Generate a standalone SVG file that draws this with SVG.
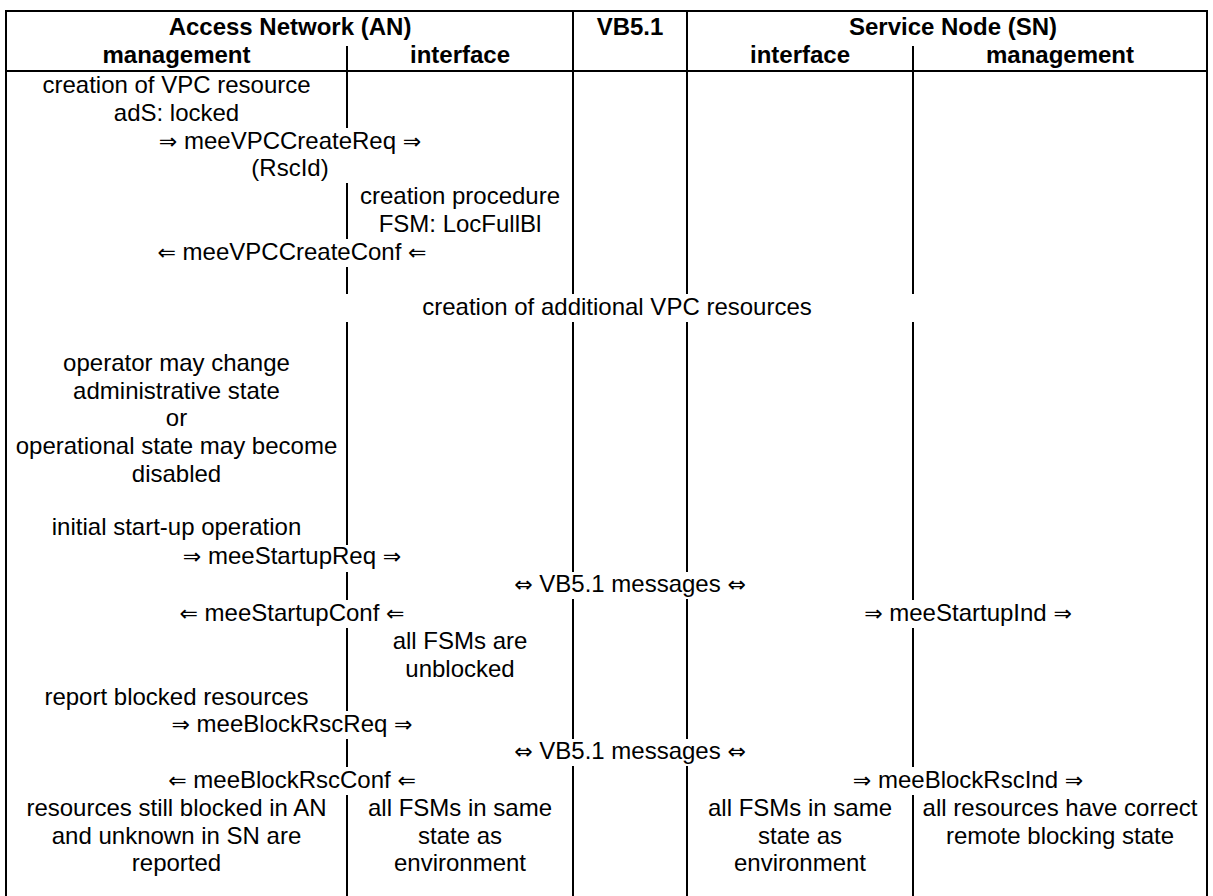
<svg xmlns="http://www.w3.org/2000/svg" width="1213" height="896" viewBox="0 0 1213 896">
<style>
  .ln { stroke: #000; stroke-width: 2; fill: none; }
  text { font-family: "Liberation Sans", "DejaVu Sans", Arial, sans-serif; font-size: 24px; fill: #000; text-anchor: middle; }
  .h { font-weight: bold; }
  .ar { font-family: "DejaVu Sans", "Liberation Sans", sans-serif; font-size: 22px; }
</style>
<rect x="0" y="0" width="1213" height="896" fill="#fff"/>
<g id="connectors">
  <line class="ln" x1="5" y1="11" x2="1208" y2="11"/>
  <line class="ln" x1="5" y1="71" x2="1208" y2="71"/>
  <line class="ln" x1="6" y1="10" x2="6" y2="896"/>
  <line class="ln" x1="1207" y1="10" x2="1207" y2="896"/>
  <path class="ln" d="M347 46V128 M347 183V239 M347 267V294 M347 322V545 M347 572V600 M347 628V711 M347 739V767 M347 795V896"/>
  <path class="ln" d="M573 11V294 M573 322V572 M573 599V739 M573 766V896"/>
  <path class="ln" d="M687 11V294 M687 322V572 M687 599V739 M687 766V896"/>
  <path class="ln" d="M913 46V294 M913 322V600 M913 628V767 M913 795V896"/>
</g>
<g id="header-an"><text class="h" x="290" y="35">Access Network (AN)</text></g>
<g id="header-vb"><text class="h" x="630" y="35">VB5.1</text></g>
<g id="header-sn"><text class="h" x="953" y="35">Service Node (SN)</text></g>
<g id="header-an-mgmt"><text class="h" x="176.5" y="63">management</text></g>
<g id="header-an-if"><text class="h" x="460" y="63">interface</text></g>
<g id="header-sn-if"><text class="h" x="800" y="63">interface</text></g>
<g id="header-sn-mgmt"><text class="h" x="1060" y="63">management</text></g>

<g id="create-vpc"><text x="176.5" y="93">creation of VPC resource</text><text x="176.5" y="121">adS: locked</text></g>
<g id="vpc-create-req"><text x="290" y="149"><tspan class="ar">⇒</tspan> meeVPCCreateReq <tspan class="ar">⇒</tspan></text><text x="290" y="176">(RscId)</text></g>
<g id="creation-procedure"><text x="460" y="204">creation procedure</text><text x="460" y="232">FSM: LocFullBl</text></g>
<g id="vpc-create-conf"><text x="292" y="260"><tspan class="ar">⇐</tspan> meeVPCCreateConf <tspan class="ar">⇐</tspan></text></g>
<g id="additional"><text x="617" y="315">creation of additional VPC resources</text></g>
<g id="operator"><text x="176.5" y="371">operator may change</text><text x="176.5" y="399">administrative state</text><text x="176.5" y="426">or</text><text x="176.5" y="454">operational state may become</text><text x="176.5" y="482">disabled</text></g>
<g id="startup-op"><text x="176.5" y="535">initial start-up operation</text></g>
<g id="startup-req"><text x="292" y="564"><tspan class="ar">⇒</tspan> meeStartupReq <tspan class="ar">⇒</tspan></text></g>
<g id="vb-msg-1"><text x="630" y="592"><tspan class="ar">⇔</tspan> VB5.1 messages <tspan class="ar">⇔</tspan></text></g>
<g id="startup-conf"><text x="292" y="621"><tspan class="ar">⇐</tspan> meeStartupConf <tspan class="ar">⇐</tspan></text></g>
<g id="startup-ind"><text x="968" y="621"><tspan class="ar">⇒</tspan> meeStartupInd <tspan class="ar">⇒</tspan></text></g>
<g id="unblocked"><text x="460" y="649">all FSMs are</text><text x="460" y="677">unblocked</text></g>
<g id="report-blocked"><text x="176.5" y="705">report blocked resources</text></g>
<g id="block-req"><text x="292" y="732"><tspan class="ar">⇒</tspan> meeBlockRscReq <tspan class="ar">⇒</tspan></text></g>
<g id="vb-msg-2"><text x="630" y="759"><tspan class="ar">⇔</tspan> VB5.1 messages <tspan class="ar">⇔</tspan></text></g>
<g id="block-conf"><text x="292" y="788"><tspan class="ar">⇐</tspan> meeBlockRscConf <tspan class="ar">⇐</tspan></text></g>
<g id="block-ind"><text x="968" y="788"><tspan class="ar">⇒</tspan> meeBlockRscInd <tspan class="ar">⇒</tspan></text></g>
<g id="an-reported"><text x="176.5" y="816">resources still blocked in AN</text><text x="176.5" y="844">and unknown in SN are</text><text x="176.5" y="871">reported</text></g>
<g id="an-if-state"><text x="460" y="816">all FSMs in same</text><text x="460" y="844">state as</text><text x="460" y="871">environment</text></g>
<g id="sn-if-state"><text x="800" y="816">all FSMs in same</text><text x="800" y="844">state as</text><text x="800" y="871">environment</text></g>
<g id="sn-mgmt-state"><text x="1060" y="816">all resources have correct</text><text x="1060" y="844">remote blocking state</text></g>
</svg>
